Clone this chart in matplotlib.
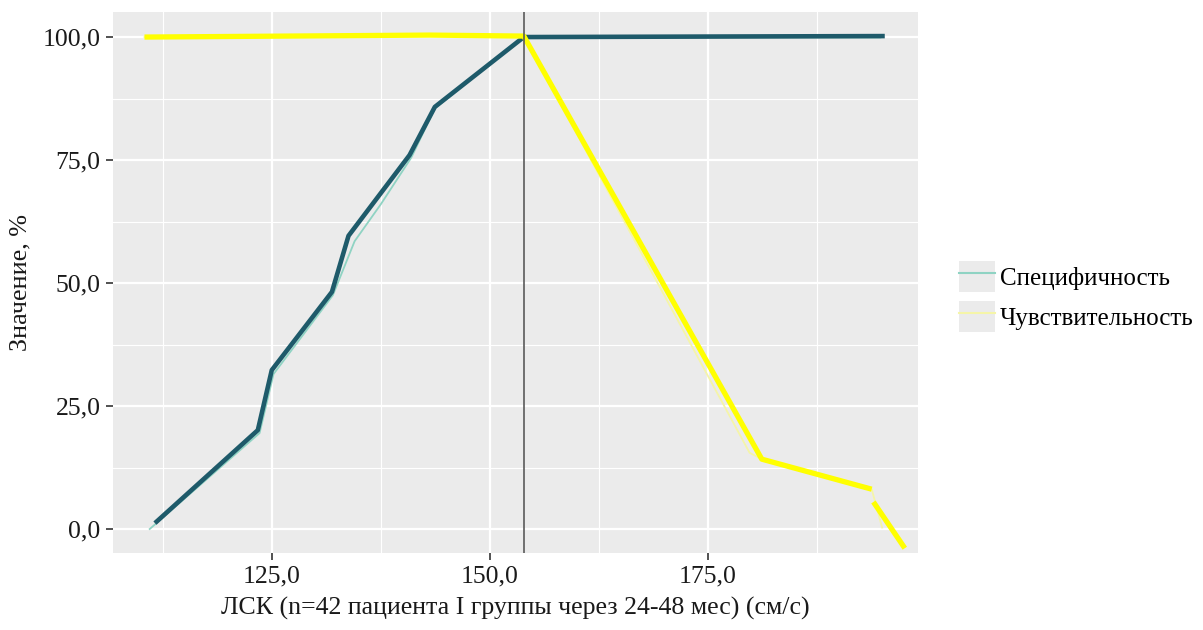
import numpy as np
import matplotlib
matplotlib.use("Agg")
import matplotlib.pyplot as plt
from matplotlib.lines import Line2D
from matplotlib.patches import Patch
from matplotlib.legend_handler import HandlerTuple
from matplotlib.ticker import MultipleLocator, FuncFormatter

plt.rcParams['font.family'] = ['Liberation Serif', 'DejaVu Serif']

# Specificity: raw (thin) and smoothed (thick) curves
spec_raw_x = [111.0, 123.6, 125.2, 132.0, 134.5, 137.5, 141.0, 143.7, 153.9, 194.8]
spec_raw_y = [0.0, 19.5, 31.5, 47.5, 58.5, 66.0, 75.5, 85.5, 100.0, 99.9]
spec_x = [111.6, 123.4, 125.0, 131.9, 133.8, 140.8, 143.7, 153.9, 195.3]
spec_y = [1.2, 20.1, 32.3, 48.2, 59.6, 76.0, 85.8, 100.0, 100.2]

# Sensitivity: raw (thin) and smoothed (thick, with a break)
sens_raw_x = [110.4, 143.1, 153.9, 179.8, 181.2, 193.8, 195.0]
sens_raw_y = [100.0, 100.4, 100.2, 15.5, 14.2, 8.1, 0.3]
sens_x = [110.4, 143.1, 153.9, 181.2, 193.8, np.nan, 194.0, 197.6]
sens_y = [100.0, 100.4, 100.2, 14.2, 8.1, np.nan, 5.5, -3.9]

cutoff = 153.9
labels = ['Специфичность', 'Чувствительность']

fig = plt.figure(figsize=(12.03, 6.30), dpi=100)
ax = fig.add_axes([0.094, 0.122, 0.669, 0.859])
ax.set_facecolor('#ebebeb')

ax.plot(spec_raw_x, spec_raw_y, color='#8fd3c3', lw=1.3, zorder=3)
ax.plot(sens_raw_x, sens_raw_y, color='#f5f5a8', lw=1.3, zorder=3)
ax.plot(spec_x, spec_y, color='#1e5a6a', lw=3.3, zorder=4, solid_capstyle='butt')
ax.plot(sens_x, sens_y, color='#ffff00', lw=3.8, zorder=5, solid_capstyle='butt')
ax.axvline(cutoff, color='#5a5a5a', lw=1.2, zorder=6)

ax.set_xlim(106.8, 199.1)
ax.set_ylim(-4.9, 105.1)
ax.xaxis.set_major_locator(MultipleLocator(25))
ax.xaxis.set_minor_locator(MultipleLocator(12.5))
ax.yaxis.set_major_locator(MultipleLocator(25))
ax.yaxis.set_minor_locator(MultipleLocator(12.5))
fmt = FuncFormatter(lambda v, p: f"{v:.1f}".replace('.', ','))
ax.xaxis.set_major_formatter(fmt)
ax.yaxis.set_major_formatter(fmt)

ax.grid(which='major', color='white', lw=1.6, zorder=0)
ax.grid(which='minor', color='white', lw=0.8, zorder=0)
ax.set_axisbelow(True)
for s in ax.spines.values():
    s.set_visible(False)
ax.tick_params(which='major', length=5, width=1.2, color='#333333',
               labelsize=18.5, labelcolor='#1a1a1a', pad=4)
ax.tick_params(which='minor', length=0)

ax.set_xlabel('ЛСК (n=42 пациента I группы через 24-48 мес) (см/с)',
              fontsize=18.6, color='#1a1a1a', labelpad=7)
ax.set_ylabel('Значение, %', fontsize=18.8, color='#1a1a1a', labelpad=8)

handles = [(Patch(facecolor='#ebebeb', edgecolor='none'),
            Line2D([], [], color='#8fd3c3', lw=1.5)),
           (Patch(facecolor='#ebebeb', edgecolor='none'),
            Line2D([], [], color='#f5f5a8', lw=1.5))]
leg = fig.legend(handles, labels,
                 handler_map={tuple: HandlerTuple(ndivide=1)},
                 loc='center left', bbox_to_anchor=(0.797, 0.529),
                 frameon=False, fontsize=18, handlelength=1.45,
                 handleheight=1.55, handletextpad=0.2, labelspacing=0.35,
                 borderaxespad=0, borderpad=0)

fig.savefig('out.png', dpi=100)
